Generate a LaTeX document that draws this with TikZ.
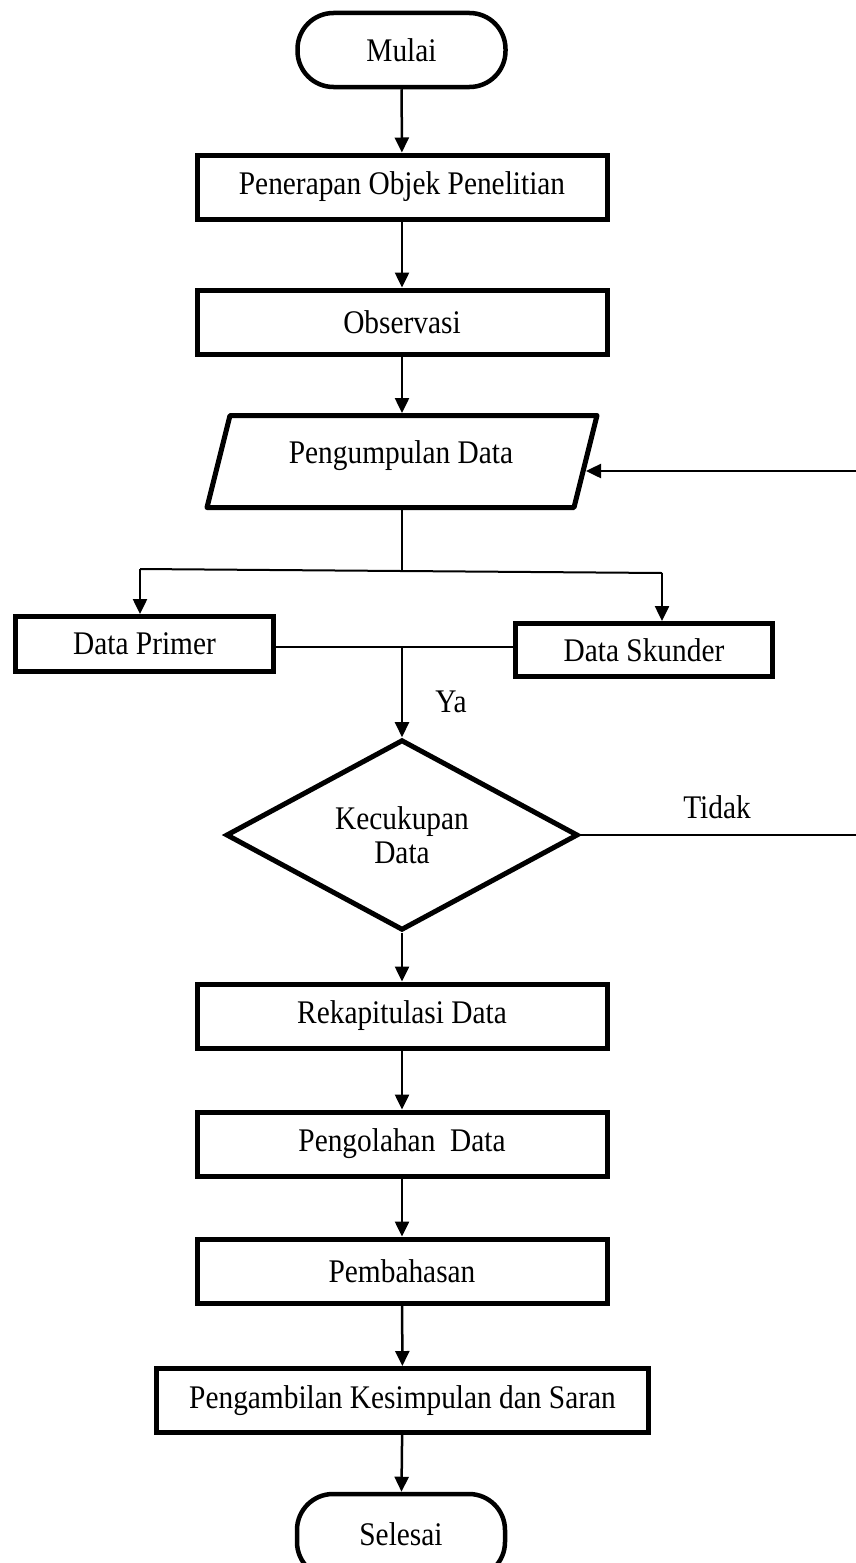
\documentclass[tikz,border=0pt]{standalone}
\usepackage{fontspec}
\setmainfont[FakeStretch=0.89]{Liberation Serif}
\usetikzlibrary{arrows.meta,shapes.geometric}
\begin{document}
\begin{tikzpicture}[x=1pt,y=-1pt,
  every node/.style={font=\fontsize{33}{37}\selectfont},
  procbox/.style={draw,line width=5pt,rectangle,minimum width=410pt,minimum height=64pt,inner sep=0pt},
  termbox/.style={draw,line width=4.5pt,rectangle,rounded corners=36pt,minimum width=208pt,minimum height=74pt,inner sep=0pt},
  decbox/.style={draw,line width=5pt,diamond,minimum width=352pt,minimum height=170pt,inner sep=0pt,align=center},
  arr/.style={-{Triangle[length=15pt,width=14pt]},line width=2.5pt},
  conn/.style={line width=2pt},
  lbl/.style={inner sep=0pt}]
\useasboundingbox (0,0) rectangle (856,1563);
\clip (0,0) rectangle (856,1563);

% terminals and processes
\node[termbox] (start) at (401.5,50) {Mulai};
\node[procbox] (pen) at (402,187) {Penerapan Objek Penelitian};
\node[procbox] (obs) at (402,322) {Observasi};

% parallelogram
\coordinate (pTL) at (230,415.5);
\coordinate (pTR) at (597,415.5);
\coordinate (pBR) at (574,507.5);
\coordinate (pBL) at (207,507.5);
\draw[line width=5pt,line join=round] (pTL) -- (pTR) -- (pBR) -- (pBL) -- cycle;
\node[lbl] (pd) at (401,456) {Pengumpulan Data};
\coordinate (pTop) at (402,413);
\coordinate (pBot) at (402,510);
\coordinate (pIn) at (586,471);

% branch
\coordinate (bMid) at (402,571);
\coordinate (bL) at (140,569);
\coordinate (bR) at (662,573);
\node[procbox,minimum width=258pt,minimum height=55pt] (prim) at (144.5,644) {Data Primer};
\node[procbox,minimum width=257pt,minimum height=53pt] (skun) at (644,650) {Data Skunder};
\coordinate (yaTop) at (402,647);

% decision
\node[decbox] (dec) at (402,835) {\raisebox{-6pt}{\shortstack{Kecukupan\\[2pt]Data}}};
\node[lbl] (ya) at (451,702) {Ya};
\node[lbl] (tidak) at (717,807) {Tidak};
\coordinate (fbCorner) at (890,835);

% lower chain
\node[procbox] (rek) at (402,1016) {Rekapitulasi Data};
\node[procbox] (peng) at (402,1144) {Pengolahan\ \ Data};
\node[procbox] (pemb) at (402,1271) {Pembahasan};
\node[procbox,minimum width=492pt] (kes) at (402.5,1400.5) {Pengambilan Kesimpulan dan Saran};
\node[termbox,minimum height=84pt] (end) at (401,1536) {\raisebox{3pt}{Selesai}};

% connectors
\draw[arr] (start) -- (pen);
\draw[arr] (pen) -- (obs);
\draw[arr] (obs) -- (pTop);
\draw[conn] (pBot) -- (bMid);
\draw[conn] (bL) -- (bR);
\draw[arr] (bL) -- (bL |- prim.north);
\draw[arr] (bR) -- (bR |- skun.north);
\draw[conn] (prim.east |- yaTop) -- (skun.west |- yaTop);
\draw[arr] (yaTop) -- (dec.north);
\draw[arr] (dec.east) -- (fbCorner) |- (pIn);
\draw[arr] (dec.south) -- (rek);
\draw[arr] (rek) -- (peng);
\draw[arr] (peng) -- (pemb);
\draw[arr] (pemb) -- (kes);
\draw[arr] (kes) -- (end);
\end{tikzpicture}
\end{document}
